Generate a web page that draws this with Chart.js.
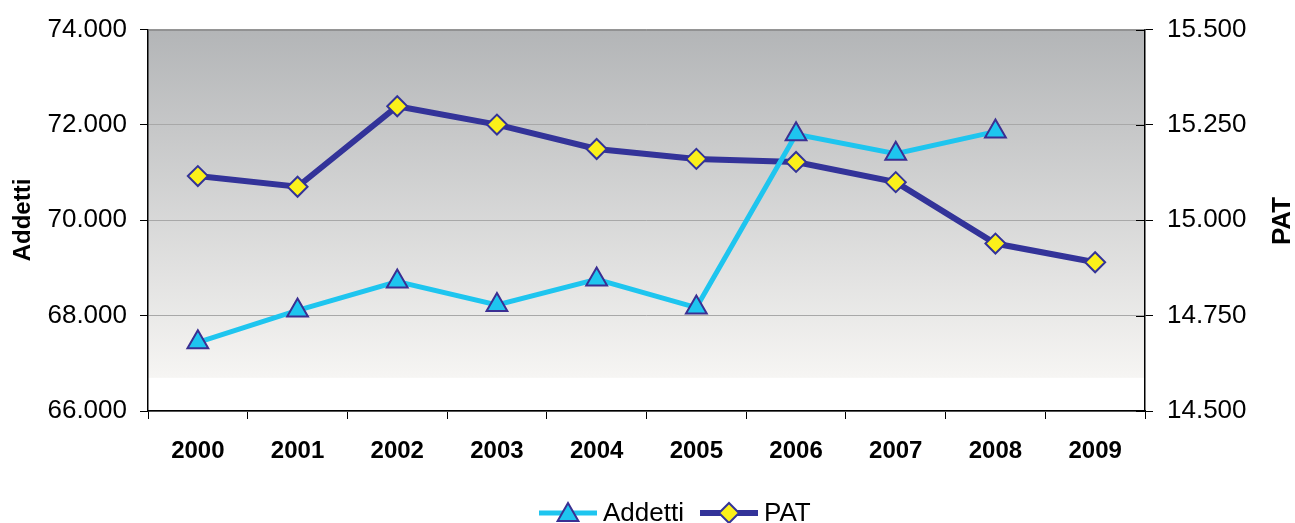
<!DOCTYPE html>
<html>
<head>
<meta charset="utf-8">
<script src="https://cdn.jsdelivr.net/npm/chart.js@4.4.1/dist/chart.umd.min.js"></script>
<style>
  html, body { margin: 0; padding: 0; background: #fff; }
  #wrap { width: 1295px; height: 523px; position: relative; }
</style>
</head>
<body>
<div id="wrap"><canvas id="chart"></canvas></div>
<script>
const anni = ['2000', '2001', '2002', '2003', '2004', '2005', '2006', '2007', '2008', '2009'];
const addetti = [67440, 68110, 68715, 68225, 68760, 68170, 71805, 71395, 71860, null];
const pat = [15116, 15088, 15299, 15251, 15187, 15161, 15153, 15100, 14939, 14890];
const addettiTicks = [66000, 74000, 2000];
const patTicks = [14500, 15500, 250];

const FONT = '"Liberation Sans", Arial, sans-serif';
const AZZURRO = '#1ec5ef';
const BLU = '#333399';

const fmt = v => String(Math.round(v)).replace(/\B(?=(\d{3})+(?!\d))/g, '.');

// sfondo sfumato dell'area del grafico
const sfondo = {
    id: 'sfondo',
    beforeDraw(chart) {
        const { ctx, chartArea: a } = chart;
        const g = ctx.createLinearGradient(0, a.top, 0, a.bottom);
        g.addColorStop(0, '#b3b5b7');
        g.addColorStop(0.912, '#f6f5f3');
        g.addColorStop(0.913, '#ffffff');
        g.addColorStop(1, '#ffffff');
        ctx.save();
        ctx.fillStyle = g;
        ctx.fillRect(a.left, a.top, a.right - a.left, a.bottom - a.top);
        ctx.restore();
    }
};

// titoli assi, tacche interne asse destro, legenda
const extra = {
    id: 'extra',
    afterDraw(chart) {
        const { ctx, chartArea: a } = chart;
        const y1 = chart.scales.y1;
        ctx.save();
        // bordo superiore
        ctx.strokeStyle = '#7a7a7a';
        ctx.lineWidth = 1;
        ctx.beginPath();
        ctx.moveTo(a.left, a.top + 0.5);
        ctx.lineTo(a.right, a.top + 0.5);
        ctx.stroke();
        // tacche interne asse destro
        ctx.strokeStyle = '#000';
        ctx.beginPath();
        y1.ticks.forEach(t => {
            const y = Math.round(y1.getPixelForValue(t.value)) + 0.5;
            ctx.moveTo(a.right - 9, y);
            ctx.lineTo(a.right, y);
        });
        ctx.stroke();

        // titoli
        ctx.fillStyle = '#000';
        ctx.textAlign = 'center';
        ctx.textBaseline = 'middle';
        ctx.save();
        ctx.translate(23, 220);
        ctx.rotate(-Math.PI / 2);
        ctx.font = 'bold 24px ' + FONT;
        ctx.fillText('Addetti', 0, 0);
        ctx.restore();
        ctx.save();
        ctx.translate(1283, 221);
        ctx.rotate(-Math.PI / 2);
        ctx.font = 'bold 26px ' + FONT;
        ctx.fillText('PAT', 0, 0);
        ctx.restore();

        // legenda
        const yl = 513;
        const voci = [
            { ds: chart.data.datasets[0], x: 539 },
            { ds: chart.data.datasets[1], x: 700 }
        ];
        ctx.font = '26px ' + FONT;
        ctx.textAlign = 'left';
        voci.forEach(v => {
            ctx.strokeStyle = v.ds.borderColor;
            ctx.lineWidth = v.ds.borderWidth;
            ctx.beginPath();
            ctx.moveTo(v.x, yl);
            ctx.lineTo(v.x + 58, yl);
            ctx.stroke();
            ctx.fillStyle = v.ds.pointBackgroundColor;
            ctx.strokeStyle = v.ds.pointBorderColor;
            ctx.lineWidth = v.ds.pointBorderWidth;
            Chart.helpers.drawPoint(ctx, {
                pointStyle: v.ds.pointStyle,
                radius: v.ds.pointRadius,
                rotation: 0,
                borderWidth: v.ds.pointBorderWidth
            }, v.x + 29, v.ds.pointStyle === 'triangle' ? yl + 2 : yl);
            ctx.fillStyle = '#000';
            ctx.fillText(v.ds.label, v.x + 64, yl + 1);
        });
        ctx.restore();
    }
};

new Chart(document.getElementById('chart'), {
    type: 'line',
    data: {
        labels: anni,
        datasets: [{
            label: 'Addetti',
            data: addetti,
            yAxisID: 'y',
            borderColor: AZZURRO,
            borderWidth: 5,
            pointStyle: 'triangle',
            pointRadius: 12,
            pointHoverRadius: 12,
            pointBackgroundColor: AZZURRO,
            pointBorderColor: '#3b2f92',
            pointBorderWidth: 2,
            tension: 0,
            order: 1
        }, {
            label: 'PAT',
            data: pat,
            yAxisID: 'y1',
            borderColor: BLU,
            borderWidth: 6,
            pointStyle: 'rectRot',
            pointRadius: 10,
            pointHoverRadius: 10,
            pointBackgroundColor: '#fbf01a',
            pointBorderColor: BLU,
            pointBorderWidth: 2,
            tension: 0,
            order: 2
        }]
    },
    options: {
        responsive: true,
        maintainAspectRatio: false,
        animation: false,
        layout: { padding: { top: 28, left: 0, right: 0, bottom: 0 } },
        plugins: {
            legend: { display: false },
            tooltip: { enabled: false }
        },
        scales: {
            x: {
                offset: true,
                grid: { drawOnChartArea: false, offset: true, tickLength: 8, color: '#000' },
                border: { color: '#000', width: 1.5 },
                ticks: {
                    color: '#000',
                    padding: 18,
                    maxRotation: 0,
                    font: { family: FONT, size: 24, weight: 'bold' }
                },
                afterFit(scale) { scale.height = 112; }
            },
            y: {
                position: 'left',
                min: addettiTicks[0],
                max: addettiTicks[1],
                grid: { color: '#a8a8a8', lineWidth: 1, tickLength: 8, tickColor: '#000' },
                border: { color: '#000', width: 1.5 },
                ticks: {
                    stepSize: addettiTicks[2],
                    color: '#000',
                    padding: 13,
                    font: { family: FONT, size: 26 },
                    callback: v => fmt(v)
                },
                afterFit(scale) { scale.width = 148; }
            },
            y1: {
                position: 'right',
                min: patTicks[0],
                max: patTicks[1],
                grid: { drawOnChartArea: false, tickLength: 8, color: '#000' },
                border: { color: '#000', width: 1.5 },
                ticks: {
                    stepSize: patTicks[2],
                    color: '#000',
                    padding: 14,
                    font: { family: FONT, size: 26 },
                    callback: v => fmt(v)
                },
                afterFit(scale) { scale.width = 150; }
            }
        }
    },
    plugins: [sfondo, extra]
});
</script>
</body>
</html>
